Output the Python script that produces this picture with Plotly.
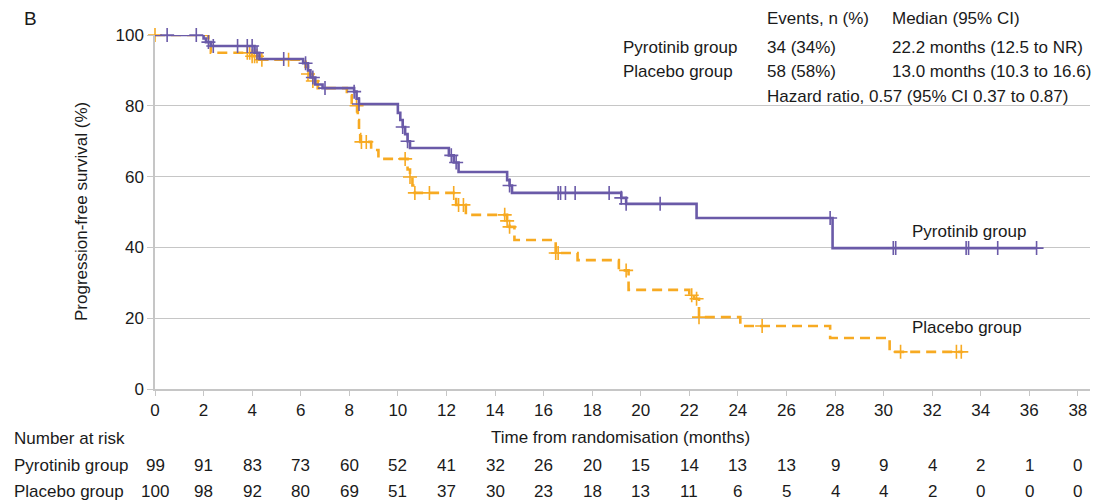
import numpy as np
import plotly.graph_objects as go

# ---------------- data ----------------
x_ticks = list(range(0, 39, 2))
y_ticks = [0, 20, 40, 60, 80, 100]

pyro_times = [0, 2.0, 2.1, 2.3, 4.1, 4.3, 6.1, 6.3, 6.4, 6.6, 6.9, 8.2, 8.3, 8.4,
              10.0, 10.1, 10.2, 10.3, 10.4, 10.5, 12.1, 12.3, 12.5, 14.5, 14.6, 14.7,
              19.2, 19.4, 22.3, 27.9, 36.3]
pyro_surv = [100, 99, 98, 96.9, 95.0, 93.2, 92, 90, 88, 86, 85, 84, 82, 80.5,
             78, 76, 74, 72, 70, 68.1, 66, 64, 61.3, 59, 57.5, 55.4,
             54, 52.3, 48.3, 39.8, 39.8]
pyro_censor = [0.5, 1.7, 2.2, 2.4, 3.4, 3.8, 4.0, 4.2, 5.3, 6.2, 6.5, 7.0, 8.2, 8.4,
               10.2, 10.4, 12.2, 12.4, 14.6, 16.6, 16.7, 16.9, 17.3, 18.7, 19.2, 19.4,
               20.8, 27.8, 30.4, 30.5, 33.4, 33.5, 34.7, 36.3]

plac_times = [0, 2.2, 2.3, 4.0, 4.3, 6.2, 6.3, 6.5, 6.7, 7.9, 8.1, 8.35, 8.4, 8.45,
              8.9, 9.2, 10.4, 10.5, 10.6, 10.7, 12.4, 12.8, 14.5, 14.6, 14.8, 16.5,
              17.4, 19.1, 19.5, 22.0, 22.2, 22.4, 24.1, 27.8, 30.25, 33.25]
plac_surv = [100, 97.5, 95.0, 94.0, 93.0, 91, 89, 87, 85, 83, 80, 76, 72, 69.8,
             67.5, 65, 62, 59.9, 57.5, 55.4, 52.0, 49.2, 47.5, 45.8, 42.1, 38.4,
             36.4, 33.5, 28.0, 26.5, 25.5, 20.3, 17.8, 14.4, 10.5, 10.5]
plac_censor = [0.0, 3.8, 3.9, 4.0, 4.1, 4.2, 4.4, 5.5, 6.3, 6.5, 8.3, 8.5, 8.7,
               10.3, 10.5, 10.7, 11.3, 12.3, 12.5, 12.7, 14.4, 14.5, 14.6, 16.5, 16.6,
               19.4, 22.1, 22.3, 22.4, 25.0, 30.7, 33.0, 33.2]

pyro_risk = [99, 91, 83, 73, 60, 52, 41, 32, 26, 20, 15, 14, 13, 13, 9, 9, 4, 2, 1, 0]
plac_risk = [100, 98, 92, 80, 69, 51, 37, 30, 23, 18, 13, 11, 6, 5, 4, 4, 2, 0, 0, 0]

groups = ["Pyrotinib group", "Placebo group"]
events = ["34 (34%)", "58 (58%)"]
medians = ["22.2 months (12.5 to NR)", "13.0 months (10.3 to 16.6)"]
hazard_text = "Hazard ratio, 0.57 (95% CI 0.37 to 0.87)"

# ---------------- style ----------------
PURPLE = "#6A5AA8"
ORANGE = "#F7AA22"
GRID = "#C6C6C6"
TXT = "#1A1A1A"
FONT = "Liberation Sans, Arial, sans-serif"
FS = 17

OFF = 8  # page body margin
W, H = 1110 - OFF, 503 - OFF
L, R, T, B = 147, 20, 27, 114
PW, PH = W - L - R, H - T - B


def px(x):
    return (x - OFF - L) / PW


def py(y):
    return (H - B - (y - OFF)) / PH


def surv_at(times, surv, t):
    times = np.asarray(times)
    idx = np.searchsorted(times, np.asarray(t), side="right") - 1
    return np.asarray(surv)[np.clip(idx, 0, len(surv) - 1)]


fig = go.Figure()

for times, surv, cens, color, dash, name in [
    (plac_times, plac_surv, plac_censor, ORANGE, "10px,6px", groups[1]),
    (pyro_times, pyro_surv, pyro_censor, PURPLE, "solid", groups[0]),
]:
    fig.add_trace(go.Scatter(
        x=times, y=surv, mode="lines", line_shape="hv",
        line=dict(color=color, width=2.6, dash=dash),
        name=name, showlegend=False, cliponaxis=False, hoverinfo="skip"))
    fig.add_trace(go.Scatter(
        x=cens, y=surv_at(times, surv, cens), mode="markers",
        marker=dict(symbol="cross-thin", size=10,
                    line=dict(color=color, width=1.6)),
        showlegend=False, cliponaxis=False, hoverinfo="skip"))

fig.update_xaxes(
    range=[0, 38.5], tickvals=x_ticks, showgrid=False, zeroline=False,
    showline=True, linecolor=GRID, linewidth=1.5,
    ticks="outside", ticklen=5, tickcolor=GRID, tickwidth=1.2,
    tickfont=dict(family=FONT, size=FS, color=TXT))
fig.update_yaxes(
    range=[0, 100], tickvals=y_ticks, showgrid=True, gridcolor=GRID, gridwidth=1.3,
    zeroline=False, showline=True, linecolor=GRID, linewidth=1.5,
    ticks="outside", ticklen=6, tickcolor=GRID, tickwidth=1.2,
    tickfont=dict(family=FONT, size=FS, color=TXT))

ann = []


def add_text(text, x, y, xanchor="left", size=FS, xref="paper", textangle=0):
    ann.append(dict(text=text, x=x, y=y, xref=xref, yref="paper",
                    xanchor=xanchor, yanchor="middle", showarrow=False,
                    textangle=textangle,
                    font=dict(family=FONT, size=size, color=TXT)))


add_text("B", px(22), py(19), size=19)
add_text("Progression-free survival (%)", px(81), py(212), xanchor="center", textangle=-90)
add_text("Time from randomisation (months)", px(620), py(437), xanchor="center")

# stats table
add_text("Events, n (%)", px(765), py(19))
add_text("Median (95% CI)", px(890), py(19))
for i, yy in enumerate([47, 72]):
    add_text(groups[i], px(621), py(yy))
    add_text(events[i], px(765), py(yy))
    add_text(medians[i], px(890), py(yy))
add_text(hazard_text, px(765), py(96))

# curve labels
add_text(groups[0], px(910), py(232))
add_text(groups[1], px(910), py(327))

# number at risk
add_text("Number at risk", px(12), py(438))
for row, yy, counts in [(groups[0], 465, pyro_risk), (groups[1], 491, plac_risk)]:
    add_text(row, px(12), py(yy))
    for t, c in zip(x_ticks, counts):
        add_text(str(c), t, py(yy), xanchor="center", xref="x")

fig.update_layout(
    width=W, height=H, autosize=False,
    margin=dict(l=L, r=R, t=T, b=B, pad=0),
    paper_bgcolor="white", plot_bgcolor="white",
    annotations=ann, showlegend=False,
    font=dict(family=FONT, size=FS, color=TXT))

fig.write_html("out.html")
